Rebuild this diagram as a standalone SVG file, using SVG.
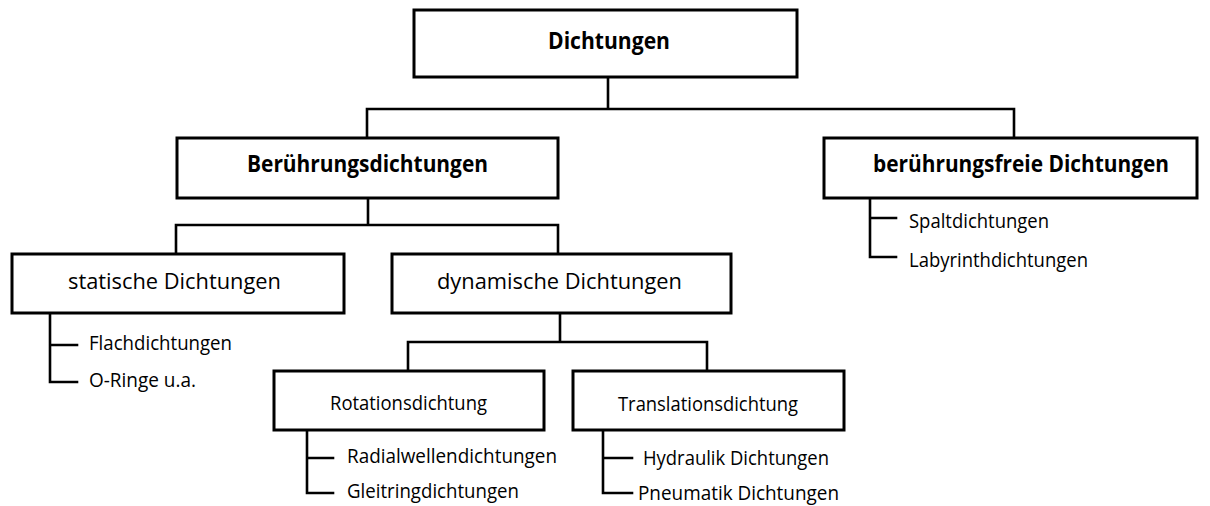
<svg xmlns="http://www.w3.org/2000/svg" width="1210" height="506" viewBox="0 0 1210 506">
<style>
.box{fill:#fff;stroke:#000;stroke-width:3}
.ln{fill:none;stroke:#000;stroke-width:2.6;stroke-linecap:square;stroke-linejoin:miter}
text{font-family:"Open Sans","Liberation Sans",sans-serif;fill:#000}
.b{font-weight:bold;font-size:23.5px}
.m{font-size:21.5px}
.s{font-size:20.5px}
.l{font-size:20px}
</style>
<rect width="1210" height="506" fill="#fff"/>
<g id="connectors">
<path class="ln" d="M608 77V109M367 109H1014M367 109V138M1014 109V138"/>
<path class="ln" d="M368 198V225M176 225H558M176 225V254M558 225V254"/>
<path class="ln" d="M560 313V342M408 342H707M408 342V371M707 342V371"/>
<path class="ln" d="M50 313V382H77M50 345H77"/>
<path class="ln" d="M870 198V257H896M870 218H896"/>
<path class="ln" d="M307 430V493H333M307 458H333"/>
<path class="ln" d="M603 430V493H632M603 458H632"/>
</g>
<g id="n-dichtungen">
<rect class="box" x="414" y="10" width="383" height="67"/>
<text class="b" x="548" y="49" textLength="122" lengthAdjust="spacingAndGlyphs">Dichtungen</text>
</g>
<g id="n-beruehrung">
<rect class="box" x="177" y="138" width="381" height="60"/>
<text class="b" x="247" y="172" textLength="241" lengthAdjust="spacingAndGlyphs">Berührungsdichtungen</text>
</g>
<g id="n-beruehrungsfrei">
<rect class="box" x="824" y="138" width="373" height="60"/>
<text class="b" x="873" y="172" textLength="296" lengthAdjust="spacingAndGlyphs">berührungsfreie Dichtungen</text>
</g>
<g id="n-statisch">
<rect class="box" x="12" y="254" width="332" height="59"/>
<text class="m" x="68" y="289" textLength="213" lengthAdjust="spacingAndGlyphs">statische Dichtungen</text>
</g>
<g id="n-dynamisch">
<rect class="box" x="392" y="254" width="339" height="59"/>
<text class="m" x="437" y="289" textLength="245" lengthAdjust="spacingAndGlyphs">dynamische Dichtungen</text>
</g>
<g id="n-rotation">
<rect class="box" x="274" y="371" width="270" height="59"/>
<text class="s" x="330" y="410" textLength="157" lengthAdjust="spacingAndGlyphs">Rotationsdichtung</text>
</g>
<g id="n-translation">
<rect class="box" x="573" y="371" width="271" height="59"/>
<text class="s" x="618" y="411" textLength="180" lengthAdjust="spacingAndGlyphs">Translationsdichtung</text>
</g>
<g id="leaves-statisch">
<text class="l" x="89" y="350" textLength="143" lengthAdjust="spacingAndGlyphs">Flachdichtungen</text>
<text class="l" x="89" y="387" textLength="107" lengthAdjust="spacingAndGlyphs">O-Ringe u.a.</text>
</g>
<g id="leaves-frei">
<text class="l" x="909" y="228" textLength="140" lengthAdjust="spacingAndGlyphs">Spaltdichtungen</text>
<text class="l" x="909" y="267" textLength="179" lengthAdjust="spacingAndGlyphs">Labyrinthdichtungen</text>
</g>
<g id="leaves-rotation">
<text class="l" x="347" y="463" textLength="210" lengthAdjust="spacingAndGlyphs">Radialwellendichtungen</text>
<text class="l" x="347" y="498" textLength="172" lengthAdjust="spacingAndGlyphs">Gleitringdichtungen</text>
</g>
<g id="leaves-translation">
<text class="l" x="643" y="465" textLength="186" lengthAdjust="spacingAndGlyphs">Hydraulik Dichtungen</text>
<text class="l" x="638" y="500" textLength="201" lengthAdjust="spacingAndGlyphs">Pneumatik Dichtungen</text>
</g>
</svg>
